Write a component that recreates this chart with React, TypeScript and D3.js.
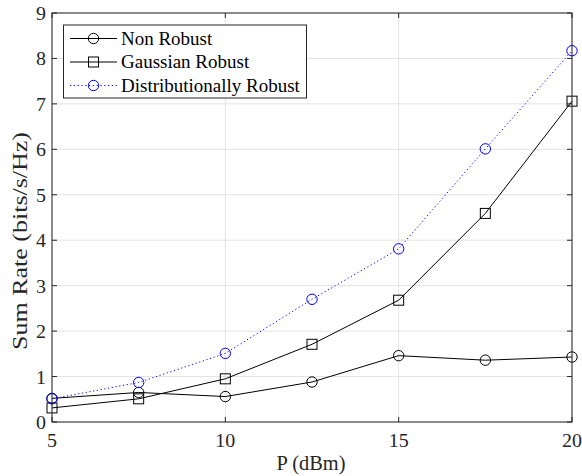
import React from "react";
import * as d3 from "d3";

const xValues = [5, 7.5, 10, 12.5, 15, 17.5, 20];
const nonRobust = [0.52, 0.65, 0.56, 0.88, 1.46, 1.36, 1.43];
const gaussianRobust = [0.31, 0.51, 0.95, 1.71, 2.68, 4.59, 7.06];
const distRobust = [0.51, 0.87, 1.51, 2.7, 3.81, 6.01, 8.17];
const xTicks = [5, 10, 15, 20];
const yTicks = [0, 1, 2, 3, 4, 5, 6, 7, 8, 9];
const seriesNames = ["Non Robust", "Gaussian Robust", "Distributionally Robust"];

const W = 582, H = 476;
const L = 52, R = 572, T = 13, B = 422;
const font = "'Liberation Serif', 'Times New Roman', serif";
const AX = "#262626";

export default function App() {
  const x = d3.scaleLinear().domain([5, 20]).range([L, R]);
  const y = d3.scaleLinear().domain([0, 9]).range([B, T]);
  const line = d3.line<number>().x((_, i) => x(xValues[i])).y((d) => y(d));

  const series = [
    { name: seriesNames[0], data: nonRobust, color: "#000", dash: undefined, marker: "circle" },
    { name: seriesNames[1], data: gaussianRobust, color: "#000", dash: undefined, marker: "square" },
    { name: seriesNames[2], data: distRobust, color: "#0000ff", dash: "1.2 2.6", marker: "circle" },
  ];

  const marker = (m: string, cx: number, cy: number, color: string, key: string) =>
    m === "circle" ? (
      <circle key={key} cx={cx} cy={cy} r={5.2} fill="none" stroke={color} strokeWidth={1} />
    ) : (
      <rect key={key} x={cx - 5} y={cy - 5} width={10} height={10} fill="none" stroke={color} strokeWidth={1} />
    );

  const txt = (
    key: string,
    tx: number,
    ty: number,
    s: string | number,
    size: number,
    sx: number,
    anchor: "start" | "middle" | "end",
    fill = AX
  ) => (
    <text
      key={key}
      transform={`translate(${tx},${ty}) scale(${sx},1)`}
      textAnchor={anchor}
      fontFamily={font}
      fontSize={size}
      fill={fill}
    >
      {s}
    </text>
  );

  return (
    <svg width={W} height={H} style={{ position: "absolute", left: 0, top: 0, background: "#fff" }}>
      <rect x={0} y={0} width={W} height={H} fill="#fff" />
      {/* grid */}
      {xTicks.map((t) => (
        <line key={"gx" + t} x1={x(t)} x2={x(t)} y1={T} y2={B} stroke="#e3e3e3" strokeWidth={1} />
      ))}
      {yTicks.map((t) => (
        <line key={"gy" + t} x1={L} x2={R} y1={y(t)} y2={y(t)} stroke="#e3e3e3" strokeWidth={1} />
      ))}
      {/* ticks */}
      {xTicks.map((t) => (
        <g key={"tx" + t}>
          <line x1={x(t)} x2={x(t)} y1={B} y2={B - 5} stroke={AX} />
          <line x1={x(t)} x2={x(t)} y1={T} y2={T + 5} stroke={AX} />
          {txt("xl" + t, x(t), B + 25, t, 19, 1.05, "middle")}
        </g>
      ))}
      {yTicks.map((t) => (
        <g key={"ty" + t}>
          <line x1={L} x2={L + 5} y1={y(t)} y2={y(t)} stroke={AX} />
          <line x1={R} x2={R - 5} y1={y(t)} y2={y(t)} stroke={AX} />
          {txt("yl" + t, L - 6, y(t) + 7, t, 19, 1.05, "end")}
        </g>
      ))}
      {/* series */}
      {series.map((s, si) => (
        <g key={"s" + si}>
          <path d={line(s.data) || ""} fill="none" stroke={s.color} strokeWidth={1} strokeDasharray={s.dash} />
          {s.data.map((v, i) => marker(s.marker, x(xValues[i]), y(v), s.color, "m" + si + "-" + i))}
        </g>
      ))}
      {/* axes box */}
      <rect x={L} y={T} width={R - L} height={B - T} fill="none" stroke={AX} strokeWidth={1} />
      {/* axis labels */}
      {txt("xlabel", (L + R) / 2 - 1, 470, "P (dBm)", 20, 1.02, "middle")}
      <text
        transform={`translate(27, 241) rotate(-90) scale(1.3,1)`}
        textAnchor="middle"
        fontFamily={font}
        fontSize={20}
        fill={AX}
      >
        Sum Rate (bits/s/Hz)
      </text>
      {/* legend */}
      <rect x={63.5} y={25} width={243} height={73} fill="#fff" stroke={AX} strokeWidth={1} />
      {series.map((s, i) => {
        const ly = 38.5 + i * 23.5;
        return (
          <g key={"lg" + i}>
            <line x1={70} x2={117} y1={ly} y2={ly} stroke={s.color} strokeWidth={1} strokeDasharray={s.dash} />
            {marker(s.marker, 93.5, ly, s.color, "lm" + i)}
            {txt("lt" + i, 121, ly + 6, s.name, 18, 1.055, "start", "#000")}
          </g>
        );
      })}
    </svg>
  );
}
